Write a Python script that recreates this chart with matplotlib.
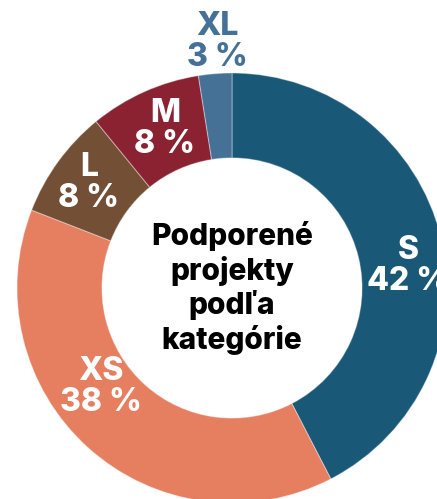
import matplotlib.pyplot as plt

categories = ['S', 'XS', 'L', 'M', 'XL']
shares = [42.4, 38.5, 8.2, 8.4, 2.5]
share_labels = ['42 %', '38 %', '8 %', '8 %', '3 %']
colors = ['#1a5878', '#e67e60', '#734f36', '#8a2232', '#467197']
label_colors = ['white', 'white', 'white', 'white', '#467197']
# label centres in figure pixels (x, y from top)
label_pos = [(408, 266), (101, 387), (89, 183), (165, 129), (217, 42)]

W, H = 437, 499
fig = plt.figure(figsize=(W / 100, H / 100), dpi=100)
ax = fig.add_axes([0, 0, 1, 1])

cx, cy, r = 232, H - 288, 215
ax.pie(shares, colors=colors, startangle=90, counterclock=False,
       radius=r, center=(cx, cy),
       wedgeprops=dict(width=r * 0.395, edgecolor=(1, 1, 1, 0.35),
                       linewidth=0.8))
ax.set_xlim(0, W)
ax.set_ylim(0, H)
ax.set_aspect('equal')
ax.axis('off')

font = ['Inter', 'Lato', 'DejaVu Sans']
for cat, lab, col, (x, y) in zip(categories, share_labels, label_colors,
                                 label_pos):
    ax.text(x, H - y, cat + '\n' + lab, ha='center', va='center',
            fontsize=23, fontweight=800, color=col, family=font,
            linespacing=1.0)

ax.text(cx, cy, 'Podporené\nprojekty\npodľa\nkategórie', ha='center',
        va='center', fontsize=21.5, fontweight=800, color='black',
        family=font, linespacing=1.2)

fig.savefig('out.png', dpi=100)
